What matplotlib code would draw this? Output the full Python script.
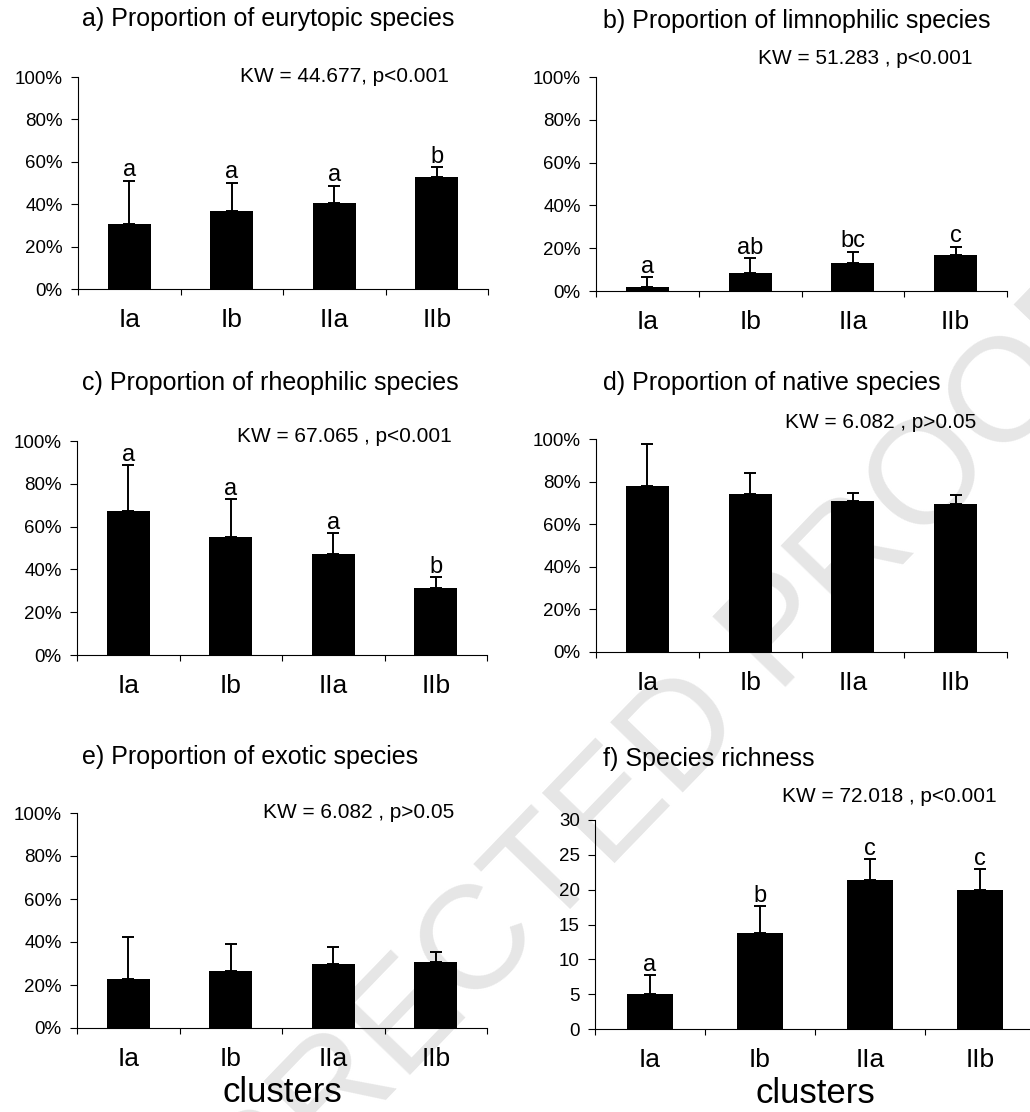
import matplotlib
matplotlib.use('Agg')
import matplotlib.pyplot as plt
import numpy as np
from matplotlib.ticker import PercentFormatter, FixedLocator

plt.rcParams['font.family'] = ['Liberation Sans', 'DejaVu Sans']

# data (mean, upper error = sd)
clusters = ['Ia', 'Ib', 'IIa', 'IIb']

eurytopic = [0.308, 0.369, 0.406, 0.527]
eurytopic_sd = [0.203, 0.133, 0.081, 0.047]
eurytopic_letters = ['a', 'a', 'a', 'b']

limnophilic = [0.017, 0.083, 0.129, 0.170]
limnophilic_sd = [0.047, 0.070, 0.055, 0.037]
limnophilic_letters = ['a', 'ab', 'bc', 'c']

rheophilic = [0.674, 0.552, 0.473, 0.314]
rheophilic_sd = [0.214, 0.177, 0.095, 0.051]
rheophilic_letters = ['a', 'a', 'a', 'b']

native = [0.779, 0.740, 0.707, 0.697]
native_sd = [0.199, 0.100, 0.038, 0.041]

exotic = [0.226, 0.267, 0.299, 0.308]
exotic_sd = [0.198, 0.126, 0.078, 0.044]

richness = [5.06, 13.76, 21.4, 19.92]
richness_sd = [2.68, 3.92, 2.97, 3.01]
richness_letters = ['a', 'b', 'c', 'c']

W, H = 1030, 1112
fig = plt.figure(figsize=(W / 100, H / 100), dpi=100)


def px_axes(left, right, top, bottom):
    'axes from pixel box (origin top-left)'
    ax = fig.add_axes([left / W, 1 - bottom / H, (right - left) / W, (bottom - top) / H])
    ax.patch.set_visible(False)
    return ax


def bar_panel(ax, values, sd, letters, ymax, percent=True):
    x = np.arange(len(clusters))
    ax.bar(x, values, width=0.42, color='black', zorder=2)
    ax.errorbar(x, values, yerr=[np.zeros(len(sd)), sd], fmt='none', ecolor='black',
                elinewidth=1.4, capsize=4, capthick=1.4, zorder=3)
    if letters is not None:
        for xi, v, s, l in zip(x, values, sd, letters):
            ax.annotate(l, (xi, v + s), xytext=(0, -0.5), textcoords='offset points',
                        ha='center', va='bottom', fontsize=17)
    ax.set_xlim(-0.5, len(clusters) - 0.5)
    ax.set_ylim(0, ymax)
    ax.spines['top'].set_visible(False)
    ax.spines['right'].set_visible(False)
    for s in ['left', 'bottom']:
        ax.spines[s].set_linewidth(0.8)
    ax.set_xticks(x)
    ax.set_xticklabels(clusters, fontsize=19)
    ax.xaxis.set_minor_locator(FixedLocator(np.arange(-0.5, len(clusters), 1.0)))
    ax.tick_params(axis='x', which='major', length=0, pad=14)
    ax.tick_params(axis='x', which='minor', length=4.5, width=0.8, direction='out')
    ax.tick_params(axis='y', length=5, width=0.8, direction='out', labelsize=13.5, pad=6)
    if percent:
        ax.set_yticks(np.arange(0, 1.01, 0.2))
        ax.yaxis.set_major_formatter(PercentFormatter(1.0, decimals=0))
    else:
        ax.set_yticks(np.arange(0, ymax + 0.1, 5))


title_kw = dict(fontsize=18, ha='left', va='center')
kw_kw = dict(fontsize=15, ha='left', va='center')

# a)
ax_a = px_axes(78, 488, 77, 289)
bar_panel(ax_a, eurytopic, eurytopic_sd, eurytopic_letters, 1.0)
fig.text(82 / W, 1 - 19 / H, 'a) Proportion of eurytopic species', **title_kw)
fig.text(240 / W, 1 - 76 / H, 'KW = 44.677, p<0.001', **kw_kw)

# b)
ax_b = px_axes(596, 1007, 77, 291)
bar_panel(ax_b, limnophilic, limnophilic_sd, limnophilic_letters, 1.0)
fig.text(603 / W, 1 - 21 / H, 'b) Proportion of limnophilic species', **title_kw)
fig.text(758 / W, 1 - 58 / H, 'KW = 51.283 , p<0.001', **kw_kw)

# c)
ax_c = px_axes(77, 487, 441, 655)
bar_panel(ax_c, rheophilic, rheophilic_sd, rheophilic_letters, 1.0)
fig.text(82 / W, 1 - 383 / H, 'c) Proportion of rheophilic species', **title_kw)
fig.text(237 / W, 1 - 437 / H, 'KW = 67.065 , p<0.001', **kw_kw)

# d)
ax_d = px_axes(596, 1007, 439, 652)
bar_panel(ax_d, native, native_sd, None, 1.0)
fig.text(603 / W, 1 - 383 / H, 'd) Proportion of native species', **title_kw)
fig.text(785 / W, 1 - 423 / H, 'KW = 6.082 , p>0.05', **kw_kw)

# e)
ax_e = px_axes(77, 487, 813, 1028)
bar_panel(ax_e, exotic, exotic_sd, None, 1.0)
ax_e.set_xlabel('clusters', fontsize=25, labelpad=3)
fig.text(82 / W, 1 - 757 / H, 'e) Proportion of exotic species', **title_kw)
fig.text(263 / W, 1 - 813 / H, 'KW = 6.082 , p>0.05', **kw_kw)

# f)
ax_f = px_axes(595, 1035, 820, 1029)
bar_panel(ax_f, richness, richness_sd, richness_letters, 30, percent=False)
ax_f.set_xlabel('clusters', fontsize=25, labelpad=3)
fig.text(603 / W, 1 - 759 / H, 'f) Species richness', **title_kw)
fig.text(782 / W, 1 - 797 / H, 'KW = 72.018 , p<0.001', **kw_kw)

# light watermark behind the plots
fig.text(520 / W, 1 - 907 / H, 'UNCORRECTED PROOF', fontsize=106, color='#e6e6e6',
         rotation=46, ha='center', va='center', rotation_mode='anchor', zorder=-1)

fig.savefig('out.png', dpi=100)
